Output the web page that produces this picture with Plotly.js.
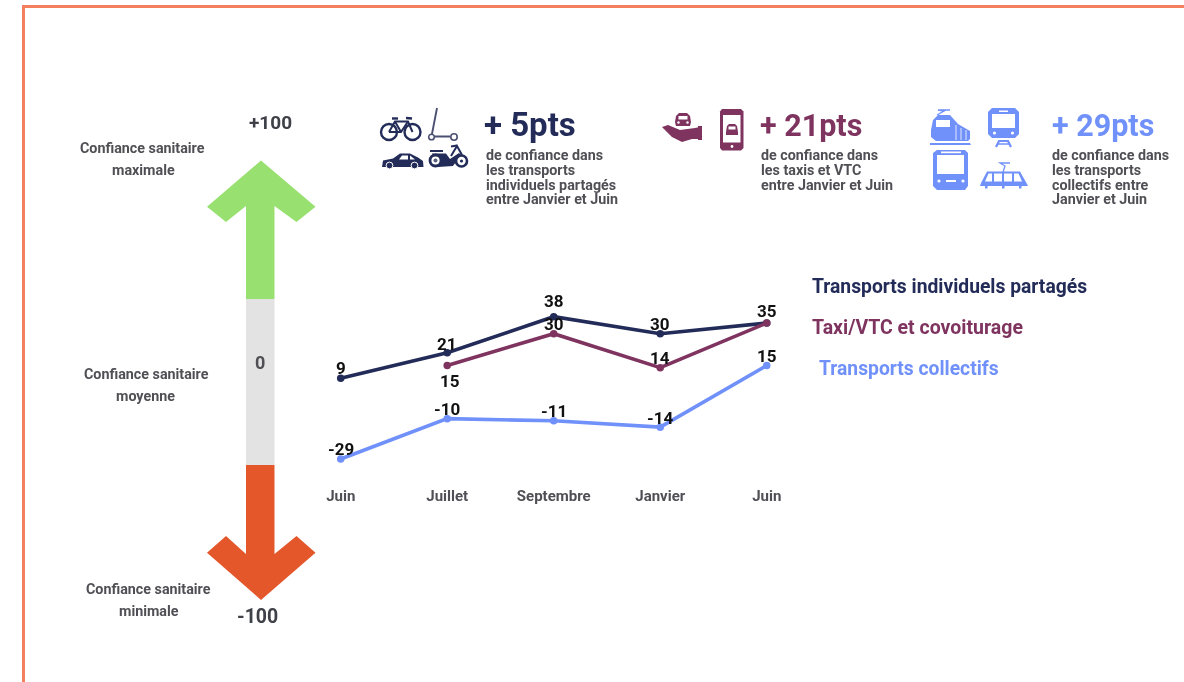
<!DOCTYPE html>
<html><head><meta charset="utf-8">
<script src="https://cdn.plot.ly/plotly-3.0.1.min.js"></script>
<style>html,body{margin:0;padding:0;background:#fff;overflow:hidden}#chart{filter:blur(0.35px)}</style>
</head><body><div id="chart" style="width:1184px;height:682px"></div>
<script>
const tickLabels = ['Juin','Juillet','Septembre','Janvier','Juin'];
const tickIndex = [0,1,2,3,4];
const individuels = [9,21,38,30,35];
const taxis = [null,15,30,14,35];
const collectifs = [-29,-10,-11,-14,15];
const individuelsShift = [10,9,15.5,10,12];
const taxisShift = [0,-15,10,10,0];
const collectifsShift = [10,10,9.5,9.5,9.5];
const NAVY='#232c58', MAROON='#7f3460', BLUE='#7090fa', GREY='#4f4f55', FRAME='#F47F5F';
const W=1184,H=682;
const px=x=>(x/W).toFixed(5), py=y=>(1-y/H).toFixed(5);
function P(pts,close=true){return pts.map((p,i)=>(i?'L':'M')+px(p[0])+','+py(p[1])).join(' ')+(close?' Z':'');}
function poly(pts,color){return {type:'path',xref:'paper',yref:'paper',path:P(pts),fillcolor:color,line:{width:0},layer:'above'};}
function rect(x0,y0,x1,y1,color,lw,lc){return {type:'rect',xref:'paper',yref:'paper',x0:px(x0),x1:px(x1),y0:py(y0),y1:py(y1),fillcolor:color,line:{width:lw||0,color:lc||color},layer:'above'};}
function circ(cx,cy,r,fill,lw,lc){return {type:'circle',xref:'paper',yref:'paper',x0:px(cx-r),x1:px(cx+r),y0:py(cy-r),y1:py(cy+r),fillcolor:fill,line:{width:lw||0,color:lc||fill},layer:'above'};}
function line(pts,color,w){return {type:'path',xref:'paper',yref:'paper',path:P(pts,false),fillcolor:'rgba(0,0,0,0)',line:{width:w,color:color},layer:'above'};}
function txt(x,y,text,size,color,anchor='left'){return {xref:'paper',yref:'paper',x:x/W,y:1-y/H,text:text,showarrow:false,xanchor:anchor,yanchor:'middle',align:anchor,font:{family:'Roboto',size:size,color:color,weight:700}, borderpad:0};}

const shapes=[
 rect(22,5,25,682,FRAME), rect(22,5,1184,8,FRAME),
 poly([[261,160.5],[315.5,206.7],[296.5,222],[274.5,206],[274.5,299],[246,299],[246,206],[226,222],[207,206.7]],'#98E070'),
 rect(246,299,274.5,465,'#E3E3E3'),
 poly([[246,465],[274.5,465],[274.5,554],[296.5,536],[315.5,552.7],[261,600],[207,552.7],[226,536],[246,554]],'#E4572B'),
 // bicycle
 circ(389,132,8,'rgba(0,0,0,0)',2.4,NAVY), circ(412.5,132,8,'rgba(0,0,0,0)',2.4,NAVY),
 line([[389,132],[395,121.5],[408,121.5],[412.5,132]],NAVY,2), line([[389,132],[401,132],[408,121.5]],NAVY,2), line([[395,121.5],[401,132]],NAVY,2), line([[392,118.5],[398,118.5]],NAVY,2.4), line([[406,118],[412,118.5]],NAVY,2.4),
 // scooter
 line([[437,108],[431.5,136.5],[450,136.5]],'#4b5170',1.9), circ(431.5,137,2.8,'#fff',1.6,'#4b5170'), circ(454,137,3.2,'#fff',1.6,'#4b5170'),
 // car
 poly([[382,167],[383,160.5],[393,158.5],[400,153.5],[410,153.5],[418,157.5],[423,161],[423.5,167]],NAVY),
 poly([[399,159.5],[402,155.5],[408,155.5],[408,159.5]],'#fff'), poly([[410,155.5],[415,159.5],[410,159.5]],'#fff'),
 circ(389.5,165.5,3.4,NAVY,1,'#fff'), circ(414.5,165.5,3.4,NAVY,1,'#fff'),
 // moped
 rect(430,150,443,152,NAVY),
 poly([[432,153.5],[446,153.5],[450,159],[459,153],[461,155],[453,166],[438,167]],NAVY),
 circ(435.5,160.5,5.5,'#fff',2.8,NAVY), circ(461.5,161,5.5,'#fff',2.6,NAVY), circ(461.5,161,1.6,NAVY), circ(435.5,160.5,2,'#5a6080'),
 line([[451,156],[457,146],[462,155]],NAVY,2), line([[451,146.5],[457,145.5]],NAVY,2),
 // hand with car
 poly([[662,127],[668,125],[680,130],[695,128],[700,127],[700,139],[692,139],[682,142],[672,137]],MAROON),
 rect(698,126,702,140,MAROON),
 poly([[675,122],[676,116],[679,113],[687,113],[690,116],[691,122],[690,126],[676,126]],MAROON),
 rect(678.5,116,687.5,119.5,'#fff'), circ(678.5,122.5,1.2,'#fff'), circ(687.5,122.5,1.2,'#fff'),
 // phone
 poly([[722,109],[741,109],[743.5,111.5],[743.5,148],[741,150.5],[722,150.5],[720,148],[720,111.5]],MAROON), rect(723,115,740.5,142.5,'#fff'), circ(732,146.5,1.4,'#fff'),
 poly([[726,132],[727,126],[729,124],[735,124],[737,126],[738,132],[738,135],[726,135]],MAROON), rect(728.5,126.5,735.5,129.5,'#fff'),
 // train
 poly([[931,130],[933,120],[938,115],[950,115],[958,124],[970,131],[970,139],[968,141],[936,141],[931,137]],BLUE),
 rect(936,120,950,127,'#fff'), poly([[930,143],[970,143],[971,145],[930,145]],BLUE), line([[937,115],[944,111],[938,110],[950,110]],BLUE,1.3),
 line([[956,125],[956,140]],'#fff',0.8), line([[961,128],[961,140]],'#fff',0.8), line([[966,130],[966,140]],'#fff',0.8),
 // metro
 poly([[992,108],[1015,108],[1019,112],[1019,134],[1015,138],[992,138],[988,134],[988,112]],BLUE),
 rect(992,114,1015,128,'#fff'), circ(994.5,133,1.6,'#fff'), circ(1012.5,133,1.6,'#fff'), rect(999,110.5,1008,112,'#fff'),
 line([[996,147],[999,141],[1008,141],[1011,147]],BLUE,2.2), line([[998,144],[1009,144]],BLUE,1.5),
 // bus
 poly([[937,150],[965,150],[968,153],[968,186],[965,190],[937,190],[933,186],[933,153]],BLUE),
 rect(937,155,964,174,'#fff'), rect(941,151.5,961,153.2,'#fff'), circ(939,181,1.6,'#fff'), circ(963,181,1.6,'#fff'), rect(946,180,956,182,'#fff'),
 // tram
 poly([[987,171.5],[1020,171.5],[1027,184],[1028,186],[980,186],[981,183]],BLUE),
 poly([[988.5,173.5],[992,173.5],[992,181.5],[985,181.5]],'#fff'), rect(994,173.5,1002,181.5,'#fff'), rect(1004,173.5,1012,181.5,'#fff'), poly([[1014,173.5],[1018.5,173.5],[1022,181.5],[1014,181.5]],'#fff'),
 rect(985,186,987.5,188.5,BLUE), rect(1002,186,1004.5,188.5,BLUE), rect(1019,186,1021.5,188.5,BLUE),
 line([[1003,172],[1005,166],[1000,163],[1010,163]],BLUE,1.3)
];

const textAnnotations=[
 txt(483,124,'+ 5pts',33,NAVY), txt(759,125,'+ 21pts',30.5,MAROON), txt(1051,125,'+ 29pts',30.5,BLUE),
 txt(485,155,'de confiance dans',14.3,GREY), txt(485,170,'les transports',14.3,GREY), txt(485,185,'individuels partagés',14.3,GREY), txt(485,199.5,'entre Janvier et Juin',14.3,GREY),
 txt(760,155,'de confiance dans',14.3,GREY), txt(760,170,'les taxis et VTC',14.3,GREY), txt(760,185,'entre Janvier et Juin',14.3,GREY),
 txt(1051,155,'de confiance dans',14.3,GREY), txt(1051,170,'les transports',14.3,GREY), txt(1051,185,'collectifs entre',14.3,GREY), txt(1051,199.5,'Janvier et Juin',14.3,GREY),
 txt(142,148,'Confiance sanitaire',14.3,GREY,'center'), txt(143,170,'maximale',14.3,GREY,'center'),
 txt(146,374,'Confiance sanitaire',14.3,GREY,'center'), txt(145,396,'moyenne',14.3,GREY,'center'),
 txt(148,589,'Confiance sanitaire',14.3,GREY,'center'), txt(149,611,'minimale',14.3,GREY,'center'),
 txt(270,122,'+100',19,'#3f4148','center'), txt(260,362,'0',18,'#4f4f55','center'), txt(257,616,'-100',19.5,'#3f4148','center'),
 txt(811,286,'Transports individuels partagés',19.3,NAVY), txt(811,327,'Taxi/VTC et covoiturage',19.5,MAROON), txt(818,368,'Transports collectifs',19.3,BLUE)
];
function labels(values,shifts){
 return values.map((v,i)=>v===null||shifts[i]===0?null:{xref:'x',yref:'y',x:tickIndex[i],y:v,text:String(v),showarrow:false,yanchor:'middle',xanchor:'center',yshift:shifts[i],xshift:shifts[i]<0?3:0,borderpad:0,font:{family:'Roboto',size:17,color:'#111',weight:700}}).filter(Boolean);
}
const annotations=textAnnotations.concat(labels(individuels,individuelsShift),labels(taxis,taxisShift),labels(collectifs,collectifsShift));

function series(name,y,color){return {type:'scatter',mode:'lines+markers',name:name,x:tickIndex,y:y,cliponaxis:false,hoverinfo:'skip',connectgaps:false,
 line:{color:color,width:3.6},marker:{color:color,size:7.5}};}
const data=[series('Transports collectifs',collectifs,BLUE),series('Transports individuels partagés',individuels,NAVY),series('Taxi/VTC et covoiturage',taxis,MAROON)];

const plotLeft=287.45,plotRight=820,plotTop=300,plotBottom=480;
const layout={width:W,height:H,margin:{l:0,r:0,t:0,b:0,pad:0},showlegend:false,paper_bgcolor:'#fff',plot_bgcolor:'rgba(0,0,0,0)',
 xaxis:{domain:[plotLeft/W,plotRight/W],range:[-0.5,4.5],tickmode:'array',tickvals:tickIndex,ticktext:tickLabels,showgrid:false,zeroline:false,showline:false,ticks:'outside',ticklen:2,tickcolor:'rgba(0,0,0,0)',tickfont:{family:'Roboto',size:15,color:GREY,weight:700}},
 yaxis:{domain:[1-plotBottom/H,1-plotTop/H],range:[38-(plotBottom-316.7)/2.124,38+(316.7-plotTop)/2.124],visible:false,showgrid:false,zeroline:false},
 shapes:shapes,annotations:annotations};
Plotly.newPlot('chart',data,layout,{displayModeBar:false,staticPlot:true});
</script></body></html>
